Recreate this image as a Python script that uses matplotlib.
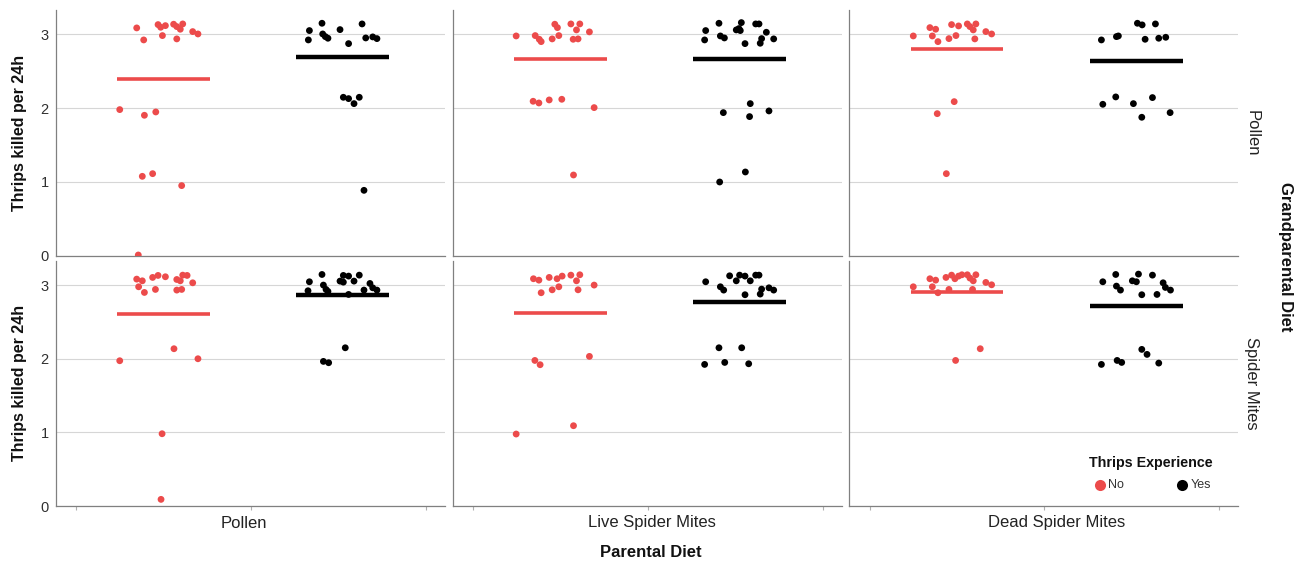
import matplotlib.pyplot as plt
from matplotlib.lines import Line2D

plt.rcParams['font.family'] = ['Liberation Sans', 'DejaVu Sans']

parental = ['Pollen', 'Live Spider Mites', 'Dead Spider Mites']
grandparental = ['Pollen', 'Spider Mites']
experience = ['No', 'Yes']
colors = ['#ec4b4b', '#000000']
group_pos = [1.0, 2.025]

# jittered observations (x, thrips killed), grandparental diet first, then parental
pol_pol_no = [(0.847, 3.087), (0.887, 2.924), (0.969, 3.132), (0.984, 3.096), (1.011, 3.118),
              (0.994, 2.983), (1.058, 3.137), (1.076, 3.105), (1.096, 3.069), (1.110, 3.141),
              (1.076, 2.938), (1.167, 3.037), (1.197, 3.005), (0.750, 1.979), (0.891, 1.902),
              (0.956, 1.947), (0.879, 1.074), (0.938, 1.110), (1.104, 0.948), (0.856, 0.007)]
pol_pol_yes = [(1.834, 3.051), (1.828, 2.924), (1.906, 3.150), (1.910, 3.005), (1.925, 2.969),
               (1.940, 2.947), (2.009, 3.064), (2.058, 2.874), (2.135, 3.141), (2.156, 2.951),
               (2.196, 2.965), (2.220, 2.942), (2.028, 2.146), (2.058, 2.128), (2.089, 2.060),
               (2.119, 2.146), (2.146, 0.884)]
pol_live_no = [(0.747, 2.978), (0.856, 2.983), (0.879, 2.933), (0.890, 2.901), (0.953, 2.938),
               (0.968, 3.137), (0.983, 3.091), (0.991, 2.983), (1.060, 3.141), (1.092, 3.060),
               (1.111, 3.141), (1.073, 2.933), (1.101, 2.938), (1.166, 3.033), (0.844, 2.092),
               (0.877, 2.069), (0.936, 2.110), (1.008, 2.119), (1.193, 2.006), (1.075, 1.092)]
pol_live_yes = [(1.831, 3.051), (1.825, 2.924), (1.907, 3.150), (1.915, 2.978), (1.938, 2.951),
                (2.006, 3.060), (2.021, 3.078), (2.035, 3.159), (2.029, 3.051), (2.056, 2.874),
                (2.117, 3.141), (2.136, 3.141), (2.178, 3.028), (2.151, 2.942), (2.143, 2.879),
                (2.220, 2.938), (1.932, 1.938), (2.082, 1.884), (2.086, 2.060), (2.193, 1.961),
                (1.911, 0.997), (2.058, 1.133)]
pol_dead_no = [(0.750, 2.978), (0.845, 3.091), (0.878, 3.069), (0.859, 2.978), (0.891, 2.901),
               (0.969, 3.132), (1.009, 3.114), (0.954, 2.942), (0.994, 2.983), (1.059, 3.141),
               (1.074, 3.105), (1.093, 3.060), (1.108, 3.141), (1.102, 2.938), (1.165, 3.037),
               (1.198, 3.005), (0.984, 2.087), (0.887, 1.924), (0.939, 1.110)]
pol_dead_yes = [(1.826, 2.924), (1.912, 2.969), (1.923, 2.978), (2.032, 3.150), (2.059, 3.128),
                (2.135, 3.141), (2.076, 2.933), (2.154, 2.947), (2.194, 2.960), (1.834, 2.051),
                (1.908, 2.151), (2.009, 2.060), (2.118, 2.142), (2.057, 1.875), (2.219, 1.938)]
mite_pol_no = [(0.847, 3.080), (0.879, 3.057), (0.858, 2.976), (0.891, 2.899), (0.938, 3.103),
               (0.969, 3.130), (1.011, 3.112), (0.954, 2.940), (1.076, 3.075), (1.096, 3.057),
               (1.110, 3.134), (1.135, 3.130), (1.076, 2.931), (1.104, 2.940), (1.167, 3.030),
               (1.060, 2.135), (0.750, 1.972), (1.197, 1.999), (0.992, 0.981), (0.986, 0.090)]
mite_pol_yes = [(1.834, 3.044), (1.826, 2.922), (1.906, 3.143), (1.914, 2.999), (1.929, 2.940),
                (1.940, 2.913), (2.009, 3.053), (2.028, 3.130), (2.058, 3.121), (2.028, 3.039),
                (2.089, 3.053), (2.119, 3.134), (2.058, 2.872), (2.146, 2.931), (2.180, 3.021),
                (2.196, 2.962), (2.220, 2.931), (2.039, 2.148), (1.914, 1.963), (1.944, 1.945)]
mite_live_no = [(0.846, 3.085), (0.877, 3.066), (0.890, 2.895), (0.936, 3.103), (0.953, 2.935),
                (0.981, 3.085), (0.991, 2.976), (1.010, 3.121), (1.060, 3.134), (1.092, 3.057),
                (1.111, 3.139), (1.101, 2.935), (1.193, 2.999), (0.854, 1.976), (0.884, 1.918),
                (1.166, 2.031), (0.747, 0.977), (1.075, 1.090)]
mite_live_yes = [(1.831, 3.044), (1.915, 2.976), (1.934, 2.931), (1.968, 3.125), (2.006, 3.057),
                 (2.025, 3.134), (2.056, 3.121), (2.086, 3.057), (2.056, 2.868), (2.117, 3.134),
                 (2.136, 3.134), (2.151, 2.944), (2.143, 2.877), (2.193, 2.962), (2.220, 2.931),
                 (1.907, 2.148), (2.037, 2.148), (1.825, 1.922), (1.940, 1.949), (2.077, 1.931)]
mite_dead_no = [(0.750, 2.976), (0.845, 3.085), (0.878, 3.066), (0.859, 2.976), (0.891, 2.895),
                (0.937, 3.103), (0.969, 3.134), (0.988, 3.085), (1.009, 3.121), (1.028, 3.139),
                (1.059, 3.139), (1.074, 3.094), (1.093, 3.057), (1.108, 3.139), (0.954, 2.940),
                (1.089, 2.940), (1.165, 3.035), (1.198, 3.003), (0.992, 1.976), (1.133, 2.135)]
mite_dead_yes = [(1.834, 3.044), (1.908, 3.143), (1.912, 2.985), (1.935, 2.931), (2.003, 3.057),
                 (2.026, 3.044), (2.038, 3.148), (2.057, 2.868), (2.118, 3.134), (2.179, 3.030),
                 (2.192, 2.967), (2.221, 2.931), (2.144, 2.872), (1.826, 1.922), (1.916, 1.976),
                 (1.942, 1.949), (2.057, 2.126), (2.087, 2.058), (2.154, 1.940)]

# group means, one value per parental diet
mean_no_pollen = [2.40, 2.66, 2.80]
mean_yes_pollen = [2.69, 2.67, 2.635]
mean_no_mites = [2.60, 2.615, 2.91]
mean_yes_mites = [2.87, 2.77, 2.72]

points = [[(pol_pol_no, pol_pol_yes), (pol_live_no, pol_live_yes), (pol_dead_no, pol_dead_yes)],
          [(mite_pol_no, mite_pol_yes), (mite_live_no, mite_live_yes), (mite_dead_no, mite_dead_yes)]]
means = [(mean_no_pollen, mean_yes_pollen), (mean_no_mites, mean_yes_mites)]

W, H = 1303, 562
fig = plt.figure(figsize=(W / 100, H / 100), dpi=100)

cols_px = [(55.7, 445), (452.7, 841.7), (849.3, 1238.3)]
rows_px = [(10, 255.5), (260.7, 506)]


def fx(x):
    return x / W


def fy(y):
    return 1 - y / H


for r, (top, bot) in enumerate(rows_px):
    for c, (left, right) in enumerate(cols_px):
        ax = fig.add_axes([fx(left), fy(bot), (right - left) / W, (bot - top) / H])
        ax.set_xlim(0.384, 2.609)
        ax.set_ylim(0, 3.33)
        ax.set_yticks([0, 1, 2, 3])
        ax.yaxis.grid(True, color='#d6d6d6', lw=0.8)
        ax.set_axisbelow(True)
        for s in ['top', 'right']:
            ax.spines[s].set_visible(False)
        for s in ['left', 'bottom']:
            ax.spines[s].set_color('#808080')
            ax.spines[s].set_linewidth(0.9)
        ax.tick_params(axis='y', length=0, pad=5, labelsize=10.5, labelcolor='#303030')
        if c > 0:
            ax.set_yticklabels([])
        if r == 1:
            ax.set_xticks([0.5, 1.5, 2.5])
            ax.tick_params(axis='x', length=3, color='#b0b0b0', width=0.8)
        else:
            ax.set_xticks([])
        ax.set_xticklabels([])

        for g in range(2):
            pts = points[r][c][g]
            ax.scatter([p[0] for p in pts], [p[1] for p in pts], s=24, color=colors[g],
                       edgecolors='none', zorder=3)
            m = means[r][g][c]
            ax.hlines(m, group_pos[g] - 0.265, group_pos[g] + 0.265, color=colors[g],
                      lw=2.6 if g == 0 else 3.2, zorder=4)

    fig.text(fx(20), fy((top + bot) / 2), 'Thrips killed per 24h', rotation=90,
             ha='center', va='center', fontsize=11.5, fontweight='bold', color='#111111')
    fig.text(fx(1252), fy((top + bot) / 2), grandparental[r], rotation=-90,
             ha='center', va='center', fontsize=12, color='#222222')

for name, xc in zip(parental, [243.7, 652.2, 1056.3]):
    fig.text(fx(xc), fy(523), name, ha='center', va='center', fontsize=12, color='#222222')

fig.text(fx(650.5), fy(552.5), 'Parental Diet', ha='center', va='center',
         fontsize=12, fontweight='bold', color='#111111')
fig.text(fx(1285), fy(257), 'Grandparental Diet', rotation=-90, ha='center', va='center',
         fontsize=12, fontweight='bold', color='#111111')

# legend
fig.text(fx(1151), fy(463.5), 'Thrips Experience', ha='center', va='center',
         fontsize=10.3, fontweight='bold', color='#111111')
for lab, col, mx in zip(experience, colors, [1100, 1182.3]):
    fig.add_artist(Line2D([fx(mx)], [fy(485)], transform=fig.transFigure, marker='o',
                          markersize=8, color=col, markeredgewidth=0))
    fig.text(fx(mx + 8), fy(485.5), lab, ha='left', va='center', fontsize=9, color='#333333')

fig.savefig('out.png', dpi=100)
